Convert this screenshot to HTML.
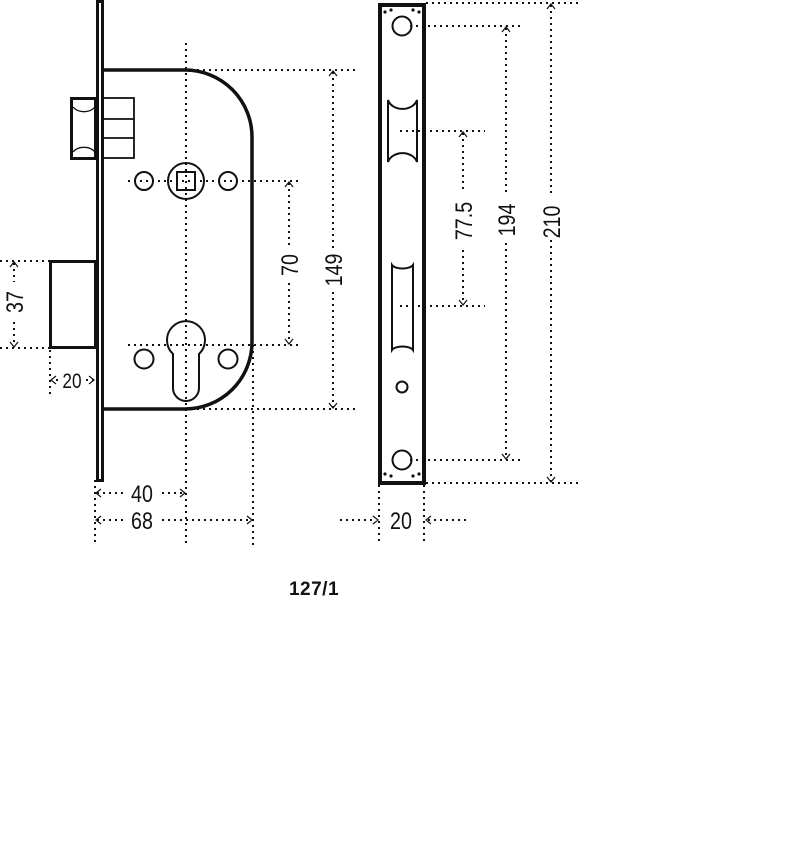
<!DOCTYPE html>
<html><head><meta charset="utf-8"><style>
html,body{margin:0;padding:0;background:#fff;}
svg{display:block;}
text{font-family:"Liberation Sans",sans-serif;fill:#111;}
.d{stroke:#111;stroke-width:2;stroke-dasharray:2 4;fill:none;}
.k{stroke:#111;fill:none;}
.a{stroke:#111;stroke-width:1.2;fill:none;}
.t{font-size:24px;}
</style></head><body>
<svg width="800" height="846" viewBox="0 0 800 846" xmlns="http://www.w3.org/2000/svg">
<rect x="97.5" y="1.5" width="5" height="479" class="k" stroke-width="3"/>
<path d="M103,70 H185 A67,67 0 0 1 252,137 V342 A67,67 0 0 1 185,409 H103" class="k" stroke-width="3.5"/>
<rect x="71.5" y="98.5" width="24" height="60" class="k" stroke-width="3"/>
<path d="M73,107 A13,10 0 0 0 95,107 M73,152 A13,10 0 0 1 95,152" class="k" stroke-width="1.3"/>
<rect x="103" y="98" width="31" height="60" class="k" stroke-width="1.8"/>
<path d="M103,119 H134 M103,138 H134" class="k" stroke-width="1.8"/>
<rect x="50.5" y="261.5" width="45" height="86" class="k" stroke-width="3"/>
<circle cx="186" cy="181" r="18" class="k" stroke-width="2"/>
<rect x="177" y="172" width="18" height="18" class="k" stroke-width="2"/>
<circle cx="144" cy="181" r="9" class="k" stroke-width="2"/>
<circle cx="228" cy="181" r="9" class="k" stroke-width="2"/>
<circle cx="144" cy="359" r="9.5" class="k" stroke-width="2"/>
<circle cx="228" cy="359" r="9.5" class="k" stroke-width="2"/>
<path d="M173,354 A19,19 0 1 1 199,354 V388 A13,13 0 0 1 173,388 Z" class="k" stroke-width="2"/>
<path class="d" d="M186,43 V545 M185,70 H358 M185,409 H358 M128,181 H298 M128,345 H298 M0,261 H66 M0,348 H66 M50,350 V395 M95,480 V545 M253,345 V545"/>
<path class="d" d="M333,72 V250 M333,292 V407 M289,183 V246 M289,283 V343 M14,263 V282 M14,322 V346 M97,493 H123 M162,493 H184 M97,520 H123 M162,520 H251 M56,380 H60 M86,380 H93"/>
<path class="a" d="M329,76 L333,71 L337,76 M329,403 L333,408 L337,403 M285,187 L289,182 L293,187 M285,339 L289,344 L293,339 M10,267 L14,262 L18,267 M10,342 L14,347 L18,342 M101,489 L96,493 L101,497 M180,489 L185,493 L180,497 M101,516 L96,520 L101,524 M247,516 L252,520 L247,524 M56,376 L51,380 L56,384 M89,376 L94,380 L89,384"/>
<text class="t" transform="translate(342,270) rotate(-90) scale(0.82,1)" text-anchor="middle">149</text>
<text class="t" transform="translate(298,265) rotate(-90) scale(0.82,1)" text-anchor="middle">70</text>
<text class="t" transform="translate(23,302) rotate(-90) scale(0.82,1)" text-anchor="middle">37</text>
<text transform="translate(72,388) scale(0.82,1)" font-size="21" text-anchor="middle">20</text>
<text class="t" transform="translate(142,502) scale(0.82,1)" text-anchor="middle">40</text>
<text class="t" transform="translate(142,529) scale(0.82,1)" text-anchor="middle">68</text>
<rect x="380" y="5" width="44" height="478" class="k" stroke-width="4"/>
<circle cx="402" cy="26" r="9.5" class="k" stroke-width="2"/>
<circle cx="402" cy="460" r="9.5" class="k" stroke-width="2"/>
<circle cx="402" cy="387" r="5.5" class="k" stroke-width="2"/>
<path d="M388,100 A15,12 0 0 0 417,100 V162 A15,12 0 0 0 388,162 Z" class="k" stroke-width="2"/>
<path d="M392,265 A11,5 0 0 0 413,265 V350 A11,5 0 0 0 392,350 Z" class="k" stroke-width="2"/>
<g fill="#111">
<circle cx="385" cy="12" r="1.6"/><circle cx="391" cy="10" r="1.6"/><circle cx="413" cy="10" r="1.6"/><circle cx="419" cy="12" r="1.6"/><circle cx="385" cy="474" r="1.6"/><circle cx="391" cy="476" r="1.6"/><circle cx="413" cy="476" r="1.6"/><circle cx="419" cy="474" r="1.6"/>
</g>
<path class="d" d="M426,3 H580 M410,26 H520 M400,131 H485 M400,306 H485 M410,460 H520 M426,483 H580 M379,485 V545 M424,485 V545 M340,520 H376 M428,520 H466"/>
<path class="d" d="M551,5 V196 M551,240 V481 M506,28 V196 M506,243 V458 M463,133 V192 M463,250 V304"/>
<path class="a" d="M547,9 L551,4 L555,9 M547,477 L551,482 L555,477 M502,32 L506,27 L510,32 M502,454 L506,459 L510,454 M459,137 L463,132 L467,137 M459,300 L463,305 L467,300 M373,516 L378,520 L373,524 M431,516 L426,520 L431,524"/>
<text class="t" transform="translate(560,222) rotate(-90) scale(0.82,1)" text-anchor="middle">210</text>
<text class="t" transform="translate(515,220) rotate(-90) scale(0.82,1)" text-anchor="middle">194</text>
<text class="t" transform="translate(472,221) rotate(-90) scale(0.82,1)" text-anchor="middle">77.5</text>
<text class="t" transform="translate(401,529) scale(0.82,1)" text-anchor="middle">20</text>
<text x="314" y="595" font-size="19" font-weight="bold" letter-spacing="0.5" text-anchor="middle">127/1</text>
</svg>
</body></html>
